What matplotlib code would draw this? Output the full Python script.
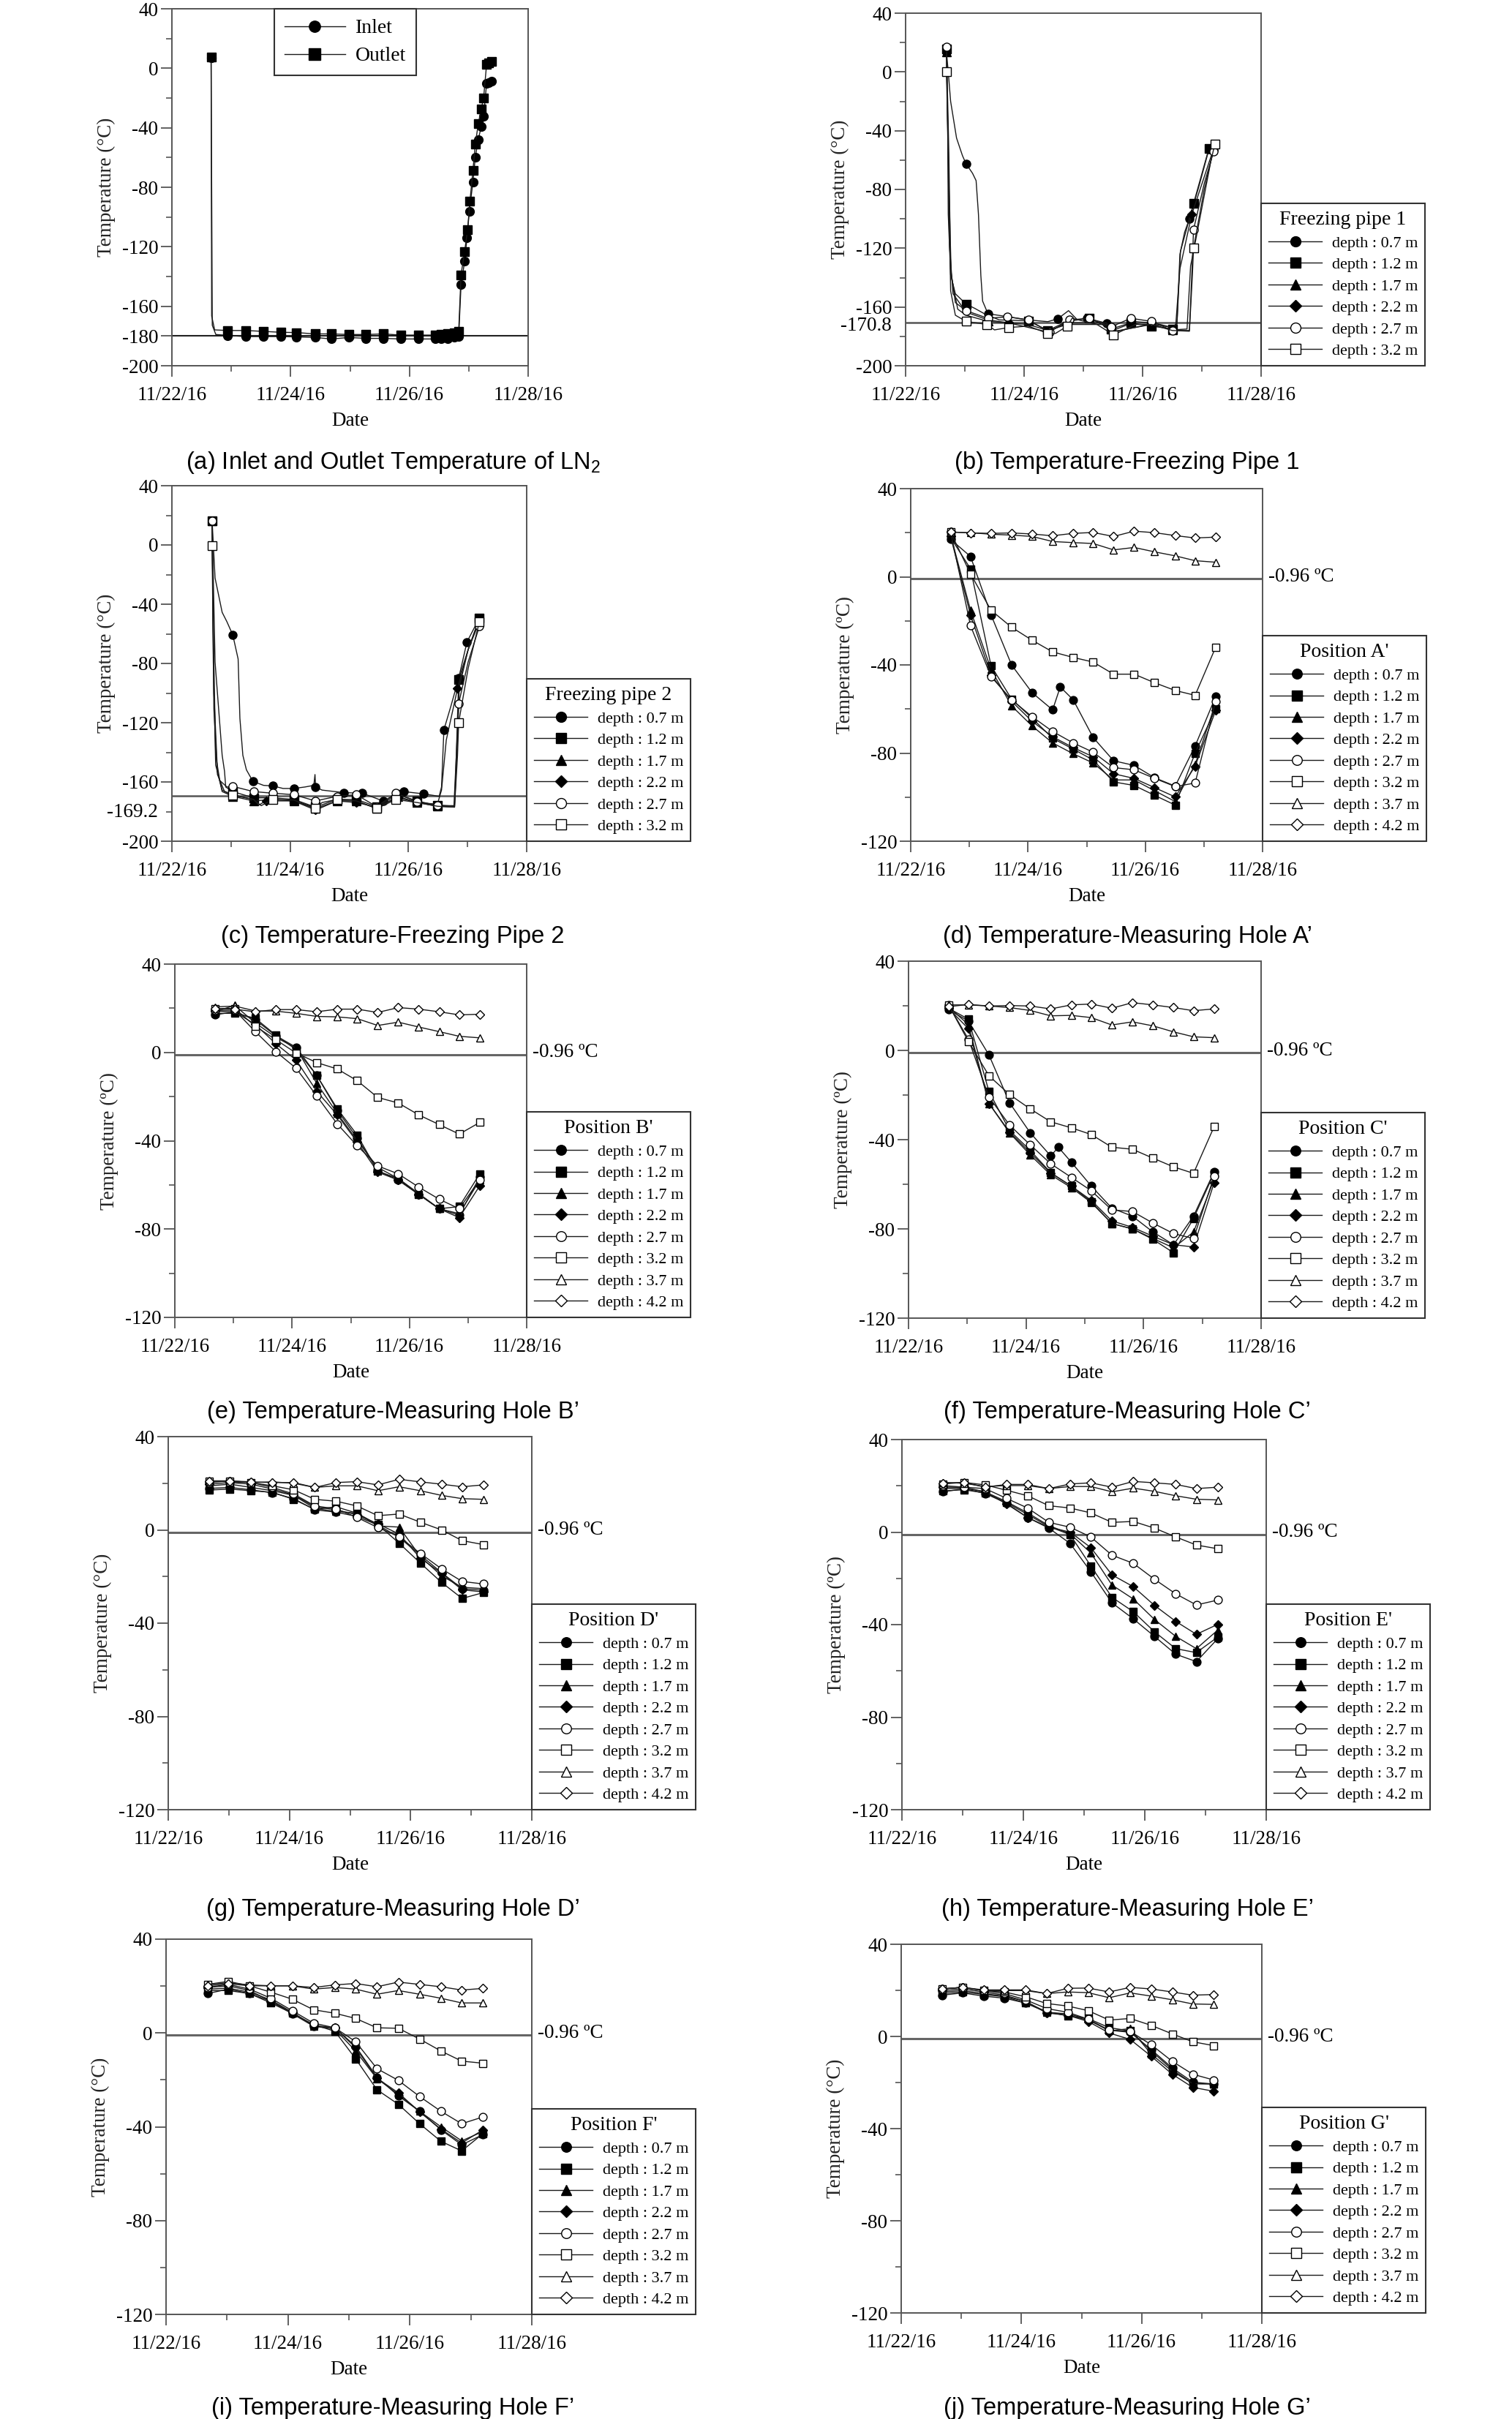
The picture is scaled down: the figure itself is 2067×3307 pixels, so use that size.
import matplotlib
matplotlib.use("Agg")
import matplotlib.pyplot as plt

plt.rcParams['font.family'] = ['Liberation Serif', 'DejaVu Serif']
plt.rcParams['axes.unicode_minus'] = False
plt.rcParams['mathtext.fontset'] = 'custom'
plt.rcParams['mathtext.rm'] = 'Liberation Sans'

# ---------------- data (x = days after 11/22/16 00:00) ----------------
DATE_TICKS = [0, 2, 4, 6]
DATE_LABELS = ['11/22/16', '11/24/16', '11/26/16', '11/28/16']
DEPTH_LABELS = ['depth : 0.7 m', 'depth : 1.2 m', 'depth : 1.7 m', 'depth : 2.2 m',
                'depth : 2.7 m', 'depth : 3.2 m', 'depth : 3.7 m', 'depth : 4.2 m']

# (a) LN2 inlet / outlet
OUT_X = [0.66, 0.67, 0.72, 0.94, 1.24, 1.54, 1.83, 2.10, 2.41, 2.69, 2.98, 3.27, 3.56, 3.86, 4.15, 4.43,
         4.54, 4.65, 4.75, 4.83, 4.87, 4.93, 4.98, 5.02, 5.07, 5.11, 5.16, 5.21, 5.25, 5.30, 5.34, 5.39]
OUT_Y = [7.6, -166.6, -175.9, -176.3, -176.3, -176.9, -177.5, -177.7, -178.6, -178.6, -179, -179, -178.6,
         -179.4, -179.4, -179.4, -179, -178.6, -178, -176.9, -138.8, -123.3, -108.5, -89.3, -68.7, -51.1,
         -37.3, -27.4, -19.8, 2.5, 3.5, 4.5]
IN_X = [0.66, 0.68, 0.74, 0.94, 1.24, 1.54, 1.83, 2.10, 2.41, 2.69, 2.98, 3.27, 3.56, 3.86, 4.15, 4.43,
        4.54, 4.65, 4.75, 4.83, 4.87, 4.93, 4.97, 5.01, 5.07, 5.11, 5.16, 5.21, 5.25, 5.30, 5.34, 5.39]
IN_Y = [7.0, -172.8, -179, -179.6, -180.4, -180.4, -180.4, -180.6, -181, -182, -181, -181.6, -181.6, -182,
        -182, -182, -182, -181.6, -181, -180.4, -145.6, -129.9, -114, -96, -76.5, -59.8, -48, -39.2,
        -32.2, -10.3, -9.5, -8.5]
IN_OUT_MARKS = [0] + list(range(3, 32))

# (b) freezing pipe 1
B07_X = [0.69, 0.72, 0.76, 0.86, 0.96, 1.02, 1.13, 1.19, 1.23, 1.27, 1.30, 1.39, 1.74, 2.07, 2.40, 2.57,
         2.75, 2.90, 3.06, 3.39, 3.56, 3.88, 4.21, 4.50, 4.58, 4.63, 4.71, 4.79, 4.95, 5.12, 5.22]
B07_Y = [13.5, 0, -20, -45, -57, -62.5, -69, -74, -97, -138.5, -156, -164.6, -166.7, -168.8, -170, -168,
         -162.5, -168.8, -167.7, -171, -175, -170, -171, -174, -171, -124, -109, -100, -78, -52.7, -49]
B07_M = [0, 5, 11, 15, 18, 19, 27, 29]
B12_X = [0.69, 0.71, 0.72, 0.76, 0.84, 1.02, 1.17, 1.33, 1.58, 2.07, 2.40, 2.73, 3.10, 3.47, 3.80, 4.15,
         4.50, 4.58, 4.64, 4.86, 5.12, 5.22]
B12_Y = [15.6, -34, -97, -138, -151, -158, -161, -164.6, -168.8, -169.4, -176, -169.8, -167.7, -175,
         -170.8, -173, -175, -172, -122, -89.6, -52, -49.4]
B12_M = [0, 5, 9, 10, 12, 13, 14, 15, 16, 19, 20]
B17_X = [0.69, 0.73, 0.77, 0.88, 1.02, 1.39, 2.07, 2.40, 2.73, 3.39, 3.47, 4.15, 4.50, 4.75, 4.81, 4.87, 5.20]
B17_Y = [13.5, -76, -138.5, -161.5, -165.6, -169.8, -171.9, -176, -171.9, -171.9, -177, -171.9, -175.6,
         -175, -132, -120, -50.6]
B17_M = [0, 5, 8, 12, 16]
B22_X = [0.69, 0.74, 0.80, 1.02, 1.39, 1.74, 2.40, 2.73, 3.39, 3.51, 4.15, 4.50, 4.56, 4.63, 4.83, 5.20]
B22_Y = [14.6, -117.7, -151, -163.5, -168.8, -170.8, -177, -170.8, -170.8, -177, -171.5, -174, -172, -134,
         -97, -52]
B22_M = [0, 5, 14, 15]
B27_X = [0.69, 0.73, 0.76, 0.84, 1.02, 1.39, 1.72, 2.07, 2.43, 2.77, 3.10, 3.47, 3.80, 4.15, 4.50, 4.79,
         4.83, 4.86, 5.04, 5.20]
B27_Y = [17.3, -55, -134, -157, -162.5, -167.7, -166.7, -168.8, -177, -168.8, -167.7, -173.5, -167.7,
         -169.8, -176, -176, -138.5, -107.3, -76, -54]
B27_M = [0, 4, 5, 6, 7, 8, 9, 10, 11, 12, 13, 14, 17, 19]
B32_X = [0.69, 0.72, 0.76, 0.84, 1.02, 1.37, 1.50, 1.74, 2.07, 2.40, 2.53, 2.73, 2.81, 3.23, 3.51, 3.88,
         4.15, 4.50, 4.79, 4.84, 4.86, 5.04, 5.22]
B32_Y = [0, -55, -149, -165.6, -169.8, -171.9, -175.6, -174, -173, -178, -178, -173, -167.7, -171.9, -179,
         -171.9, -171.9, -176, -176.5, -138.5, -119.8, -80, -49]
B32_M = [0, 4, 5, 7, 9, 11, 14, 20, 22]

# (c) freezing pipe 2
C07_X = [0.68, 0.73, 0.85, 0.93, 1.03, 1.12, 1.15, 1.20, 1.26, 1.37, 1.55, 1.71, 1.88, 2.06, 2.25, 2.40,
         2.42, 2.43, 2.54, 2.91, 3.22, 3.57, 3.92, 4.25, 4.52, 4.56, 4.60, 4.72, 4.85, 4.99, 5.20]
C07_Y = [16.2, -22.3, -45.5, -51.8, -60.8, -77, -117, -142, -151.8, -159.6, -162.3, -162.7, -164.4, -164.4,
         -163.4, -162.3, -155, -163.4, -165.5, -167.2, -167.6, -172.8, -166.5, -168, -169.7, -163.4,
         -124.8, -108.6, -90, -65.5, -49.3]
C07_M = [0, 4, 9, 11, 13, 17, 19, 20, 21, 22, 23, 26, 28, 29, 30]
C12_X = [0.68, 0.73, 0.85, 0.89, 0.91, 1.03, 1.38, 1.71, 2.06, 2.43, 2.79, 3.12, 3.46, 3.82, 4.15, 4.49,
         4.77, 4.81, 4.85, 5.01, 5.20]
C12_Y = [16.2, -79, -142, -152.8, -163.4, -166.5, -170.7, -170.7, -171.8, -177, -171.8, -171.8, -176.6,
         -168.6, -172.8, -176, -176, -142, -90.7, -70.7, -49.3]
C12_M = [0, 5, 6, 8, 9, 10, 11, 12, 13, 14, 15, 18, 20]
C17_X = [0.68, 0.71, 0.77, 0.85, 1.03, 1.38, 1.71, 2.06, 2.43, 2.79, 3.12, 3.46, 3.82, 4.15, 4.49, 4.78,
         4.83, 4.86, 5.01, 5.20]
C17_Y = [16.2, -100, -152.8, -166.5, -169.7, -172.8, -171.8, -172.8, -178, -172.8, -172.8, -177.7, -169.7,
         -173.9, -176.4, -177, -131.8, -96, -70.7, -50]
C17_M = [0, 4, 5, 7, 8, 9, 10, 11, 12, 13, 14, 19]
C22_X = [0.68, 0.71, 0.77, 0.89, 1.03, 1.38, 1.47, 1.59, 2.06, 2.43, 2.79, 3.12, 3.46, 3.82, 4.15, 4.49,
         4.56, 4.64, 4.83, 5.01, 5.20]
C22_Y = [16.2, -110.7, -155, -166.5, -168.6, -171.8, -175.6, -172.8, -172.8, -179, -172.8, -173.9, -177,
         -170.7, -173.9, -175, -165.5, -131.8, -97, -70.7, -51.8]
C22_M = [0, 4, 7, 8, 9, 11, 12, 13, 18, 20]
C27_X = [0.68, 0.70, 0.74, 0.81, 0.93, 1.03, 1.38, 1.71, 2.06, 2.43, 2.79, 3.12, 3.46, 3.79, 4.15, 4.49,
         4.78, 4.81, 4.85, 5.01, 5.20]
C27_Y = [16.2, -58, -142, -159, -163.4, -163, -166.5, -167.6, -168.6, -172.8, -169.7, -168.6, -176.6,
         -167.6, -173.5, -175.6, -176.4, -142.3, -107, -79, -55]
C27_M = [0, 5, 6, 7, 8, 9, 10, 11, 12, 13, 14, 15, 18, 20]
C32_X = [0.68, 0.70, 0.74, 0.85, 1.03, 1.38, 1.51, 1.71, 2.06, 2.43, 2.54, 2.79, 3.12, 3.46, 3.79, 4.15,
         4.49, 4.78, 4.83, 4.85, 5.01, 5.20]
C32_Y = [-0.4, -79, -148.6, -165.5, -169, -171.8, -176, -171.8, -172.2, -177.7, -173.9, -171.8, -172.8,
         -178, -171.8, -173.9, -176.4, -177, -142.3, -119.8, -83.4, -51.8]
C32_M = [0, 4, 7, 9, 11, 13, 14, 19, 21]

# measuring holes: common reading days
HOLE_DAYS = [0.68, 1.02, 1.37, 1.72, 2.07, 2.42, 2.77, 3.11, 3.46, 3.81, 4.16, 4.51, 4.85, 5.20]
SPIKE_DAYS = [0.68, 1.02, 1.37, 1.72, 2.07, 2.42, 2.55, 2.77, 3.11, 3.46, 3.81, 4.16, 4.51, 4.85, 5.20]

# (d) Position A'
A07 = [17, 9.2, -17.3, -40, -52.6, -60.4, -50, -55.8, -72.9, -83.5, -85.6, -91.2, -95, -76.8, -54.4]
A12 = [17.8, 3.6, -40.4, -55.5, -64.2, -73.3, -78.2, -83.1, -93.1, -94.7, -99.2, -103.6, -80, -60]
A17 = [19, -15.2, -42.1, -58.6, -67.7, -75.4, -80.3, -84.5, -92.2, -92.2, -97.1, -102, -85.2, -57.2]
A22 = [18.3, -17.3, -44.6, -56.5, -65.6, -72.6, -77.5, -81.7, -89.4, -91.5, -95.7, -99.9, -86, -60.7]
A27 = [20.3, -22.2, -45.3, -55.8, -63.5, -70.2, -75.4, -79.6, -86.6, -87.6, -91.5, -95.2, -93.6, -56.5]
A32 = [20.3, 1.3, -15.2, -22.9, -28.8, -34.1, -36.6, -38.7, -44.2, -44.2, -48.1, -51.6, -53.8, -32]
A37 = [20.3, 20, 19.3, 18.9, 18.3, 16, 15.5, 15.1, 12.2, 13.3, 11.3, 9.5, 7.3, 6.6]
A42 = [20.3, 19.9, 19.7, 19.9, 19.4, 18.6, 19.7, 20.1, 18.3, 20.7, 20, 18.7, 17.6, 18]

# (e) Position B'
B_07 = [17, 18.4, 14.8, 7.6, 2.3, -10.4, -26.2, -38.8, -53.5, -57.8, -64.3, -70.8, -73.7, -56.4]
B_12 = [17.7, 17.7, 15.5, 7.9, 1.2, -10.4, -25.5, -37.4, -53.8, -57.1, -64.3, -70.8, -69.8, -55]
B_17 = [18.4, 21.3, 13.4, 6.9, 1.9, -14, -27.6, -39.9, -52.1, -57.1, -63.9, -70.8, -73, -57.8]
B_22 = [18.7, 18.4, 12.7, 4, -3.5, -17.6, -28.3, -40.6, -54.2, -57.8, -64.3, -70.8, -74.8, -60.4]
B_27 = [19.1, 19.1, 9.5, 0.4, -7.2, -19.7, -32.4, -42.3, -51.4, -55, -61, -66.5, -70.8, -57.6]
B_32 = [19.9, 19.9, 11.9, 5.8, -0.3, -4.6, -7.5, -12.8, -20.4, -22.9, -28.3, -32.7, -37, -31.7]
B_37 = [20.6, 21, 18.8, 18.7, 17.7, 16.3, 16.1, 15.3, 12.2, 13.7, 11.5, 9.4, 7.3, 6.6]
B_42 = [19.9, 19.6, 18.4, 19.4, 19.4, 18.4, 19.6, 19.6, 18.1, 20.3, 19.6, 18.4, 17, 17.3]

# (f) Position C'
C_07 = [18.2, 13.2, -2.1, -23.5, -36.9, -47.3, -43.4, -50.1, -60.8, -70.7, -74.3, -81.4, -87.1, -74.3, -54.4]
C_12 = [18.9, 14, -18.5, -35.9, -44.8, -54.8, -60.8, -67.9, -77.6, -80, -84.7, -90.7, -75.3, -55.1]
C_17 = [19.6, 11.5, -23.8, -37, -46.8, -55.8, -61.5, -68.2, -77.6, -80, -84.3, -88.5, -81.4, -57.9]
C_22 = [18.9, 9.7, -23.8, -36.6, -45.8, -55, -60.8, -67.2, -76.4, -79.3, -83.3, -87.1, -88.1, -59.4]
C_27 = [20.4, 5, -20.9, -33.5, -42.3, -50.8, -56.9, -62.9, -71.5, -72.2, -77.4, -82.1, -84.3, -56.5]
C_32 = [20.4, 4, -11.4, -19.8, -26.2, -32, -34.7, -37.7, -43.4, -44.3, -48.3, -52.2, -55.1, -34.2]
C_37 = [20.4, 20.4, 19.9, 19.2, 17.9, 15.5, 15.7, 14.7, 11.4, 12.8, 11, 8.3, 6.1, 5.7]
C_42 = [19.6, 20.6, 19.9, 20.1, 19.9, 18.6, 20.4, 20.8, 18.9, 21.4, 20.4, 19.2, 17.8, 18.6]

# (g) Position D'
D07 = [17.8, 18.2, 17.2, 15.9, 13.4, 8.6, 7.6, 5.8, 2.1, -3.2, -10.8, -18.3, -25.2, -25.9]
D12 = [17.1, 17.5, 16.8, 16.1, 13.1, 8.8, 9.9, 7.2, 2.3, -5.7, -14.2, -22.5, -29.4, -26.9]
D17 = [18.9, 19.6, 18.2, 16.8, 14.8, 9.2, 7.9, 7.2, 1.7, 1.2, -11.4, -19.7, -24.6, -25.2]
D22 = [19.6, 20.3, 19.6, 17.5, 15, 9.9, 8.6, 6.5, 2.6, -1.8, -12.1, -18.6, -25.7, -26.6]
D27 = [20.3, 21, 20.3, 18.2, 15.4, 10.3, 9, 5.4, 1, -2.9, -10.1, -16.7, -22.1, -23.2]
D32 = [21, 21, 20.3, 18.9, 17.2, 13.1, 12.3, 10.3, 6.1, 6.8, 3.3, 0, -4.6, -6.3]
D37 = [21, 20.6, 20.3, 20.6, 20, 18.2, 18.9, 18.9, 16.8, 18.5, 16.8, 14.8, 13.4, 13.1]
D42 = [21, 21, 20.6, 20.3, 20.3, 18.2, 20.3, 20.7, 19.3, 21.7, 20.6, 19.6, 18.5, 19.3]

# (h) Position E'
E07 = [17.4, 18.8, 16.7, 12.5, 6.3, 1.7, -4.9, -17.1, -30.6, -37.5, -45.1, -52.8, -56, -46.1]
E12 = [17.8, 18.3, 16.9, 12.8, 7.6, 2.4, -1.1, -14.6, -28.2, -34.4, -43.1, -50.4, -52.1, -45.4]
E17 = [18.8, 19, 17.4, 13.2, 8.3, 2.8, -0.7, -9, -22.9, -28.9, -37.8, -45.1, -50.4, -42.4]
E22 = [19.4, 19.4, 17.4, 12.2, 6.3, 2.1, 0, -6.7, -18.5, -23.6, -31.7, -38.6, -44.2, -39.9]
E27 = [20.1, 19.4, 18.8, 14.6, 10.4, 4.2, 2.1, -2.1, -10, -13.5, -20.4, -26.7, -31.5, -29.4]
E32 = [20.8, 21.5, 20.4, 18.1, 15.7, 11.4, 10.4, 8.3, 4.2, 4.6, 1.7, -2.1, -5.6, -7.2]
E37 = [21.5, 21.1, 19.7, 20.1, 20.1, 18.8, 19.7, 19.7, 17.4, 19, 17.6, 15.7, 14.2, 13.9]
E42 = [21.1, 21.5, 19.4, 20.6, 20.6, 18.8, 20.8, 21.3, 19.4, 21.9, 21.3, 20.6, 18.8, 19.4]

# (i) Position F'
F07 = [16.8, 18.7, 16.8, 13.5, 8.2, 2.9, 2.2, -5.7, -18.9, -26.8, -33.4, -41.3, -47.7, -43.3]
F12 = [18.1, 18.1, 16.8, 12.8, 8.4, 3.6, 0.7, -11, -24.2, -30.4, -38.7, -46.2, -50.3, -42.9]
F17 = [18.7, 19.1, 17.4, 14.1, 8.8, 2.9, 1.6, -7.7, -19.5, -26.1, -33.4, -40, -46, -42]
F22 = [19.4, 20.1, 18.1, 13.5, 8.8, 3.2, 2.2, -6.3, -19.3, -25.5, -33.7, -41, -46.9, -41.3]
F27 = [19.4, 20.7, 18.7, 14.8, 9.5, 4.2, 2.2, -3.7, -15.2, -20.2, -27.1, -33.4, -38.7, -35.8]
F32 = [20.7, 22, 20.1, 17.4, 14.4, 9.9, 8.4, 6.2, 2.2, 2, -2.6, -7.7, -12, -12.9]
F37 = [20.7, 21.4, 20.5, 20.1, 20.1, 18.7, 19.4, 18.7, 16.5, 18.1, 16.5, 14.8, 12.8, 12.8]
F42 = [20.1, 21, 20.1, 20.1, 20.1, 19.4, 20.5, 21.1, 19.7, 21.7, 20.7, 19.7, 18.3, 19]

# (j) Position G'
G07 = [17.9, 18.9, 17.5, 16.6, 14.5, 10.5, 9.2, 7.1, 2.7, 1.8, -5.7, -13.7, -19.8, -20.7]
G12 = [18.6, 19.3, 18.2, 17.2, 14.5, 10.8, 8.9, 7.8, 3.8, 2.4, -6.3, -14.4, -20.5, -20.5]
G17 = [19.3, 19.9, 18.6, 17.5, 15.2, 10.5, 9.8, 7.5, 2.4, 3.4, -7.7, -15.1, -20.5, -20.7]
G22 = [19.9, 20.6, 19.3, 17.9, 15.2, 10.2, 9.2, 6.5, 1.5, -1.3, -8.6, -16.4, -22.1, -23.8]
G27 = [20.6, 21.3, 19.9, 18.6, 15.9, 12.1, 10.5, 7.5, 2.7, 2.2, -3.6, -10.8, -16.4, -18.9]
G32 = [20.6, 21.3, 19.9, 19.3, 17.2, 14.3, 13.2, 11.2, 7.1, 7.8, 4.8, 1.1, -2.3, -4]
G37 = [20.6, 21.3, 19.9, 19.9, 19.9, 18.6, 19.3, 19, 16.8, 18.9, 17.5, 15.9, 14.1, 13.9]
G42 = [20.6, 21.3, 20.2, 20.2, 20.2, 18.6, 20.9, 21, 19.3, 21.3, 20.6, 19.3, 17.9, 18.2]

CAPTIONS = ['(a) Inlet and Outlet Temperature of LN$_\\mathrm{2}$',
            '(b) Temperature-Freezing Pipe 1', '(c) Temperature-Freezing Pipe 2',
            '(d) Temperature-Measuring Hole A\u2019', '(e) Temperature-Measuring Hole B\u2019',
            '(f) Temperature-Measuring Hole C\u2019', '(g) Temperature-Measuring Hole D\u2019',
            '(h) Temperature-Measuring Hole E\u2019', '(i) Temperature-Measuring Hole F\u2019',
            '(j) Temperature-Measuring Hole G\u2019']

# ---------------- styling / layout ----------------
W, H = 2067, 3307
fig = plt.figure(figsize=(W / 100, H / 100), dpi=100)

STYLE = [('o', 'black'), ('s', 'black'), ('^', 'black'), ('D', 'black'),
         ('o', 'white'), ('s', 'white'), ('^', 'white'), ('D', 'white')]
SPINE = '#555555'
TICK_FS = 19.5


def add_ax(L, R, T, B):
    return fig.add_axes([L / W, 1 - B / H, (R - L) / W, (B - T) / H])


def frame(ax, ylo, yhi, ymajor, yminor, ylabel):
    ax.set_xlim(0, 6)
    ax.set_ylim(ylo, yhi)
    ax.set_xticks(DATE_TICKS, DATE_LABELS)
    ax.set_xticks([1, 3, 5], minor=True)
    ax.set_yticks(ymajor, ['%g' % v for v in ymajor])
    ax.set_yticks(yminor, minor=True)
    ax.tick_params(which='major', direction='out', length=10.5, width=1.3, color=SPINE,
                   labelsize=TICK_FS)
    ax.tick_params(axis='x', which='major', pad=10)
    ax.tick_params(axis='y', which='major', pad=3)
    ax.tick_params(which='minor', direction='out', length=6, width=1.2, color=SPINE)
    for s in ax.spines.values():
        s.set_color(SPINE)
        s.set_linewidth(1.4)
    ax.set_xlabel('Date', fontsize=19.5, labelpad=7)
    ax.set_ylabel(ylabel, fontsize=19.5, labelpad=6, color='#222222')


def series(ax, x, y, k, label, marks=None, ms=8):
    m, fc = STYLE[k]
    size = ms * 0.8 if m == 'D' else ms
    ax.plot(x, y, color='#1a1a1a', lw=1.0, marker=m, ms=size, mfc=fc, mec='black', mew=1.0,
            markevery=marks, label=label, zorder=3)


def side_legend(ax, title):
    leg = ax.legend(title=title, loc='lower left', bbox_to_anchor=(1.0, 0.0), borderaxespad=0,
                    fancybox=False, edgecolor='#333333', framealpha=1, fontsize=16,
                    title_fontsize=20, handlelength=3.3, handletextpad=0.6, labelspacing=0.4,
                    markerscale=1.25, borderpad=0.45)
    leg.get_frame().set_linewidth(1.5)


def side_label(ax, y, text):
    ax.annotate(text, xy=(0, y), xycoords=('axes fraction', 'data'), xytext=(-13.5, 0),
                textcoords='offset points', ha='right', va='center', fontsize=TICK_FS,
                annotation_clip=False)


def zero_line(ax):
    ax.axhline(-0.96, color='#666666', lw=2.2, zorder=2)
    ax.annotate('-0.96 \u00baC', xy=(1, -0.96), xycoords=('axes fraction', 'data'),
                xytext=(6, 2), textcoords='offset points', ha='left', va='center',
                fontsize=TICK_FS, annotation_clip=False)


POS = {'a': (235, 722, 12, 500), 'b': (1238, 1724, 18, 500),
       'c': (235, 720, 664, 1150), 'd': (1245, 1726, 668, 1150),
       'e': (239, 720, 1318, 1801), 'f': (1242, 1724, 1314, 1802),
       'g': (230, 727, 1964, 2474), 'h': (1233, 1731, 1968, 2474),
       'i': (227, 727, 2651, 3164), 'j': (1232, 1725, 2658, 3162)}
CAP_Y = [632, 632, 1280, 1280, 1930, 1930, 2610, 2610, 3292, 3292]
CAP_X = [537, 1541]

DEG = 'Temperature (\u00b0C)'
ORD = 'Temperature (\u00baC)'

# ---- (a)
ax = add_ax(*POS['a'])
frame(ax, -200, 40, [40, 0, -40, -80, -120, -160, -180, -200], [20, -20, -60, -100, -140], DEG)
ax.axhline(-180, color='#222222', lw=1.5, zorder=2)
ax.plot(IN_X, IN_Y, color='#1a1a1a', lw=1.0, marker='o', ms=8.5, mfc='black', mec='black',
        markevery=IN_OUT_MARKS, label='Inlet', zorder=3)
ax.plot(OUT_X, OUT_Y, color='#1a1a1a', lw=1.0, marker='s', ms=8.5, mfc='black', mec='black',
        markevery=IN_OUT_MARKS, label='Outlet', zorder=3)
leg = ax.legend(loc='upper left', bbox_to_anchor=(0.287, 1.0), borderaxespad=0, fancybox=False,
                edgecolor='#333333', framealpha=1, fontsize=20, handlelength=3.0,
                handletextpad=0.5, labelspacing=0.45, markerscale=1.3, borderpad=0.5)
leg.get_frame().set_linewidth(1.5)

# ---- (b)
ax = add_ax(*POS['b'])
frame(ax, -200, 40, [40, 0, -40, -80, -120, -160, -200], [20, -20, -60, -100, -140, -180], DEG)
ax.axhline(-170.8, color='#555555', lw=1.8, zorder=2)
side_label(ax, -173, '-170.8')
for k, (x, y, mk) in enumerate([(B07_X, B07_Y, B07_M), (B12_X, B12_Y, B12_M), (B17_X, B17_Y, B17_M),
                                (B22_X, B22_Y, B22_M), (B27_X, B27_Y, B27_M), (B32_X, B32_Y, B32_M)]):
    series(ax, x, y, k, DEPTH_LABELS[k], mk)
side_legend(ax, 'Freezing pipe 1')

# ---- (c)
ax = add_ax(*POS['c'])
frame(ax, -200, 40, [40, 0, -40, -80, -120, -160, -200], [20, -20, -60, -100, -140, -180], DEG)
ax.axhline(-169.2, color='#555555', lw=1.8, zorder=2)
side_label(ax, -180.5, '-169.2')
for k, (x, y, mk) in enumerate([(C07_X, C07_Y, C07_M), (C12_X, C12_Y, C12_M), (C17_X, C17_Y, C17_M),
                                (C22_X, C22_Y, C22_M), (C27_X, C27_Y, C27_M), (C32_X, C32_Y, C32_M)]):
    series(ax, x, y, k, DEPTH_LABELS[k], mk)
side_legend(ax, 'Freezing pipe 2')

# ---- (d) - (j)
HOLES = [
    ('d', "Position A'", ORD, [(SPIKE_DAYS, A07), (HOLE_DAYS, A12), (HOLE_DAYS, A17), (HOLE_DAYS, A22),
                               (HOLE_DAYS, A27), (HOLE_DAYS, A32), (HOLE_DAYS, A37), (HOLE_DAYS, A42)]),
    ('e', "Position B'", ORD, [(HOLE_DAYS, B_07), (HOLE_DAYS, B_12), (HOLE_DAYS, B_17), (HOLE_DAYS, B_22),
                               (HOLE_DAYS, B_27), (HOLE_DAYS, B_32), (HOLE_DAYS, B_37), (HOLE_DAYS, B_42)]),
    ('f', "Position C'", ORD, [(SPIKE_DAYS, C_07), (HOLE_DAYS, C_12), (HOLE_DAYS, C_17), (HOLE_DAYS, C_22),
                               (HOLE_DAYS, C_27), (HOLE_DAYS, C_32), (HOLE_DAYS, C_37), (HOLE_DAYS, C_42)]),
    ('g', "Position D'", DEG, [(HOLE_DAYS, D07), (HOLE_DAYS, D12), (HOLE_DAYS, D17), (HOLE_DAYS, D22),
                               (HOLE_DAYS, D27), (HOLE_DAYS, D32), (HOLE_DAYS, D37), (HOLE_DAYS, D42)]),
    ('h', "Position E'", ORD, [(HOLE_DAYS, E07), (HOLE_DAYS, E12), (HOLE_DAYS, E17), (HOLE_DAYS, E22),
                               (HOLE_DAYS, E27), (HOLE_DAYS, E32), (HOLE_DAYS, E37), (HOLE_DAYS, E42)]),
    ('i', "Position F'", DEG, [(HOLE_DAYS, F07), (HOLE_DAYS, F12), (HOLE_DAYS, F17), (HOLE_DAYS, F22),
                               (HOLE_DAYS, F27), (HOLE_DAYS, F32), (HOLE_DAYS, F37), (HOLE_DAYS, F42)]),
    ('j', "Position G'", DEG, [(HOLE_DAYS, G07), (HOLE_DAYS, G12), (HOLE_DAYS, G17), (HOLE_DAYS, G22),
                               (HOLE_DAYS, G27), (HOLE_DAYS, G32), (HOLE_DAYS, G37), (HOLE_DAYS, G42)]),
]
for key, title, ylab, data in HOLES:
    ax = add_ax(*POS[key])
    frame(ax, -120, 40, [40, 0, -40, -80, -120], [20, -20, -60, -100], ylab)
    zero_line(ax)
    for k, (x, y) in enumerate(data):
        series(ax, x, y, k, DEPTH_LABELS[k], None, ms=7.8)
    side_legend(ax, title)

# ---- captions
for n, cap in enumerate(CAPTIONS):
    fig.text(CAP_X[n % 2] / W, 1 - CAP_Y[n] / H, cap, ha='center', va='center', fontsize=23.5,
             family=['Liberation Sans', 'DejaVu Sans'])

fig.savefig('out.png', dpi=100, facecolor='white')
